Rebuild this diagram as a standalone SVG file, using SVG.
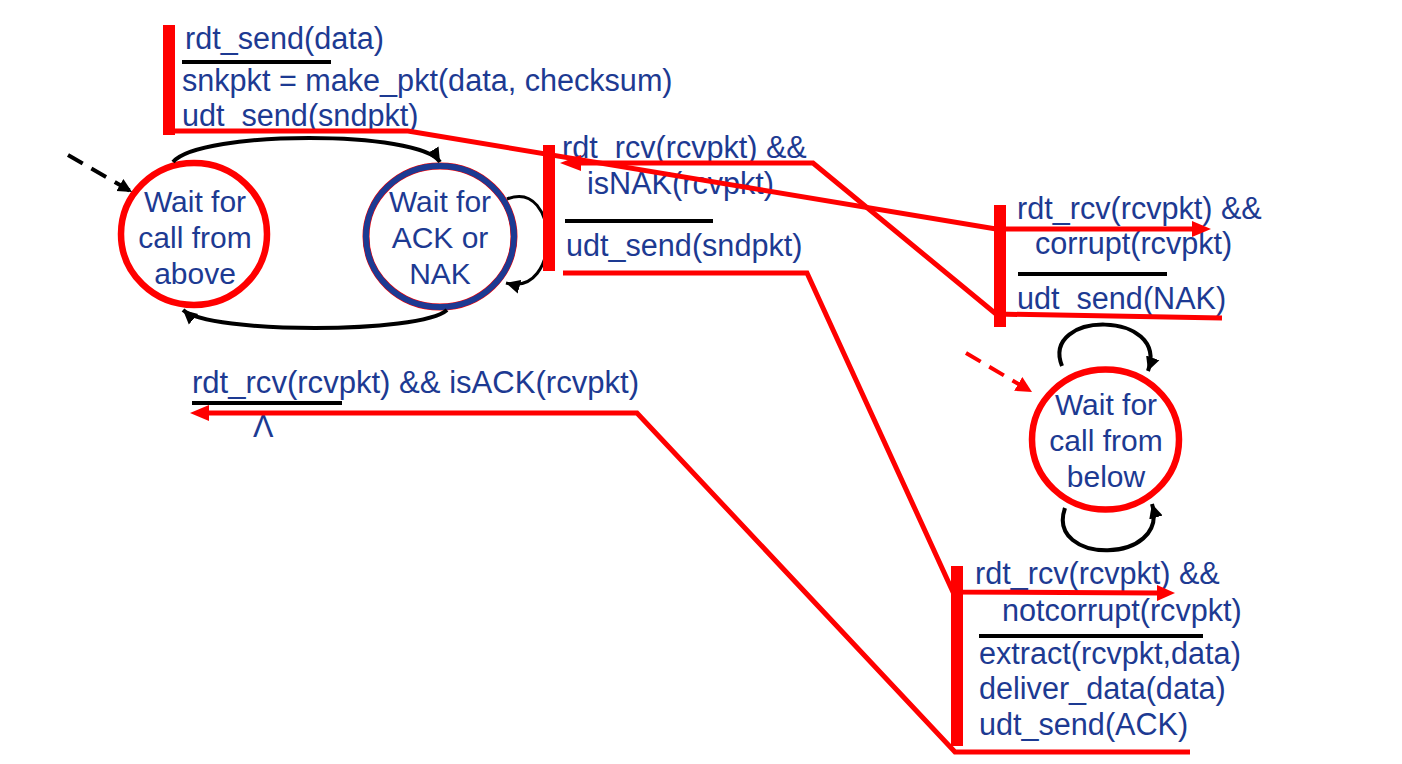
<svg xmlns="http://www.w3.org/2000/svg" width="1402" height="764" viewBox="0 0 1402 764">
<style>
.t{font-family:"Liberation Sans",Arial,sans-serif;font-size:30.6px;fill:#1d3a92}
.c{text-anchor:middle;font-size:30px}
.st{fill:#fff;stroke:#ff0000;stroke-width:6.5}
.bl{stroke:#000;stroke-width:4}
.arc{fill:none;stroke:#000;stroke-width:4}
.rl{fill:none;stroke:#ff0000;stroke-width:5;stroke-linejoin:miter}
.bar{fill:#ff0000}
.rh{fill:#ff0000}
</style>
<defs>
<marker id="ah" markerUnits="userSpaceOnUse" markerWidth="16" markerHeight="16" refX="14" refY="7" orient="auto" viewBox="0 0 16 14">
<path d="M0,0 L14,7 L0,14 z" fill="#000"/>
</marker>
<marker id="ahr" markerUnits="userSpaceOnUse" markerWidth="18" markerHeight="18" refX="16" refY="8" orient="auto" viewBox="0 0 18 16">
<path d="M0,0 L16,8 L0,16 z" fill="#ff0000"/>
</marker>
</defs>
<rect width="1402" height="764" fill="#fff"/>

<g id="state-wait-above">
<ellipse class="st" cx="194" cy="234" rx="73" ry="71"/>
<text class="t c" x="195" y="212">Wait for</text>
<text class="t c" x="195" y="248">call from</text>
<text class="t c" x="195" y="284">above</text>
</g>

<g id="state-wait-ack">
<ellipse cx="440" cy="236.5" rx="74" ry="70.5" fill="#fff" stroke="#ff0000" stroke-width="7"/>
<ellipse cx="440" cy="236.5" rx="74" ry="70.5" fill="none" stroke="#1d3a92" stroke-width="6"/>
<text class="t c" x="440" y="212">Wait for</text>
<text class="t c" x="440" y="248">ACK or</text>
<text class="t c" x="440" y="284">NAK</text>
</g>

<g id="state-wait-below">
<ellipse class="st" cx="1105.5" cy="439.5" rx="73.5" ry="70"/>
<text class="t c" x="1106" y="415">Wait for</text>
<text class="t c" x="1106" y="451">call from</text>
<text class="t c" x="1106" y="487">below</text>
</g>

<g id="label-rdt-send">
<text class="t" x="185" y="49">rdt_send(data)</text>
<line class="bl" x1="182" y1="62" x2="331" y2="62"/>
<text class="t" x="182" y="91">snkpkt = make_pkt(data, checksum)</text>
<text class="t" x="182" y="126">udt_send(sndpkt)</text>
</g>

<g id="label-isnak">
<text class="t" x="562" y="158">rdt_rcv(rcvpkt) &amp;&amp;</text>
<text class="t" x="587" y="194">isNAK(rcvpkt)</text>
<line class="bl" x1="565" y1="221" x2="713" y2="221"/>
<text class="t" x="566" y="256">udt_send(sndpkt)</text>
</g>

<g id="label-corrupt">
<text class="t" x="1017" y="219">rdt_rcv(rcvpkt) &amp;&amp;</text>
<text class="t" x="1035" y="254">corrupt(rcvpkt)</text>
<line class="bl" x1="1018" y1="274" x2="1167" y2="274"/>
<text class="t" x="1017" y="309">udt_send(NAK)</text>
</g>

<g id="label-notcorrupt">
<text class="t" x="975" y="584">rdt_rcv(rcvpkt) &amp;&amp;</text>
<text class="t" x="1002" y="621">notcorrupt(rcvpkt)</text>
<line class="bl" x1="979" y1="636" x2="1203" y2="636"/>
<text class="t" x="979" y="664">extract(rcvpkt,data)</text>
<text class="t" x="979" y="699">deliver_data(data)</text>
<text class="t" x="979" y="735">udt_send(ACK)</text>
</g>

<g id="label-isack">
<text class="t" x="192" y="393" textLength="447" lengthAdjust="spacingAndGlyphs">rdt_rcv(rcvpkt) &amp;&amp; isACK(rcvpkt)</text>
<line class="bl" x1="192" y1="403" x2="342" y2="403"/>
<text class="t" x="253" y="437">Λ</text>
</g>

<g id="connectors">
<path class="arc" d="M173,162 C200,130 420,130 440,162" marker-end="url(#ah)"/>
<path class="arc" d="M447,310 C420,334 210,334 183,310" marker-end="url(#ah)"/>
<path class="arc" style="stroke-width:3" d="M507,199 C560,178 562,298 506,283" marker-end="url(#ah)"/>
<path class="arc" d="M1062,366 C1040,310 1170,310 1148,371" marker-end="url(#ah)"/>
<path class="arc" d="M1065,508 C1045,565 1170,565 1152,504" marker-end="url(#ah)"/>
<path class="arc" stroke-dasharray="17,10" d="M68,155 L132,192" marker-end="url(#ah)"/>
<path fill="none" stroke="#ff0000" stroke-width="4" stroke-dasharray="17,10" d="M966,353 L1032,392" marker-end="url(#ahr)"/>

<rect class="bar" x="163" y="25" width="12" height="110"/>
<rect class="bar" x="543" y="145" width="12" height="126"/>
<rect class="bar" x="994" y="205" width="12" height="122"/>
<rect class="bar" x="951" y="566" width="12" height="180"/>

<path class="rl" d="M169,131 L408,131 L996,229 L1194,229"/>
<polygon class="rh" points="1192,221 1211,229 1192,237"/>
<path class="rl" d="M1222,318 L996,314 L813,163 L578,163"/>
<polygon class="rh" points="581,155 560,163 581,171"/>
<path class="rl" d="M563,273 L807,273 L953,592 L1158,593"/>
<polygon class="rh" points="1157,585 1175,593 1157,601"/>
<path class="rl" d="M1190,752 L955,752 L637,413 L208,413"/>
<polygon class="rh" points="209,405 190,413 209,421"/>
</g>
</svg>
